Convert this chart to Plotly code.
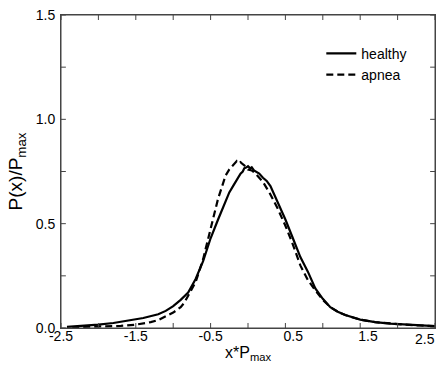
import plotly.graph_objects as go

healthy_x = [-2.42, -2.2, -2.0, -1.8, -1.6, -1.4, -1.2, -1.1, -1.0, -0.9, -0.8, -0.7, -0.6, -0.5, -0.4,
             -0.3, -0.25, -0.2, -0.15, -0.1, -0.07, -0.05, -0.02, 0.0, 0.03, 0.05, 0.08, 0.1, 0.13, 0.15,
             0.2, 0.25, 0.3, 0.4, 0.5, 0.6, 0.7, 0.8, 0.9, 1.0, 1.1, 1.2, 1.3, 1.5, 1.7, 1.9, 2.1, 2.3, 2.5]
healthy_y = [0.005, 0.010, 0.016, 0.024, 0.035, 0.048, 0.066, 0.082, 0.105, 0.135, 0.170, 0.235, 0.32, 0.43, 0.52,
             0.61, 0.65, 0.68, 0.71, 0.74, 0.75, 0.765, 0.77, 0.775, 0.765, 0.77, 0.755, 0.75, 0.745, 0.74,
             0.72, 0.705, 0.68, 0.60, 0.52, 0.43, 0.34, 0.27, 0.19, 0.14, 0.10, 0.078, 0.062, 0.040, 0.028, 0.021, 0.016, 0.012, 0.009]

apnea_x = [-2.35, -2.0, -1.7, -1.5, -1.3, -1.2, -1.1, -1.0, -0.9, -0.85, -0.8, -0.7, -0.6, -0.5, -0.4,
           -0.3, -0.25, -0.2, -0.17, -0.15, -0.12, -0.1, -0.07, -0.05, 0.0, 0.05, 0.1, 0.2, 0.3, 0.4,
           0.5, 0.6, 0.7, 0.8, 0.9, 1.0, 1.1, 1.2, 1.3, 1.5, 1.7, 1.9, 2.1, 2.3, 2.5]
apnea_y = [0.004, 0.007, 0.010, 0.016, 0.028, 0.038, 0.055, 0.074, 0.10, 0.122, 0.155, 0.22, 0.33, 0.48, 0.62,
           0.73, 0.76, 0.78, 0.795, 0.80, 0.79, 0.795, 0.785, 0.78, 0.76, 0.755, 0.74, 0.70, 0.64, 0.57,
           0.49, 0.40, 0.30, 0.23, 0.18, 0.135, 0.10, 0.078, 0.062, 0.040, 0.028, 0.021, 0.016, 0.012, 0.009]

series_names = ["healthy", "apnea"]

x_tickvals = [-2.5, -2.0, -1.5, -1.0, -0.5, 0.0, 0.5, 1.0, 1.5, 2.0, 2.5]
x_ticktext = ["-2.5", "", "-1.5", "", "-0.5", "", "\u2007\u20070.5", "", "\u2007\u20071.5", "", ""]
x_last_label = "2.5"
y_tickvals = [0, 0.25, 0.5, 0.75, 1.0, 1.25, 1.5]
y_ticktext = ["0.0", "", "0.5", "", "1.0", "", "1.5"]

fig = go.Figure()
fig.add_trace(go.Scatter(x=healthy_x, y=healthy_y, mode="lines", name=series_names[0],
                         line=dict(color="black", width=2.2)))
fig.add_trace(go.Scatter(x=apnea_x, y=apnea_y, mode="lines", name=series_names[1],
                         line=dict(color="black", width=2.2, dash="7px,4px")))

font = "Liberation Sans, Arial, sans-serif"
frame_color = "#444"
axis_common = dict(showgrid=False, zeroline=False, showline=True, linecolor=frame_color, linewidth=1,
                   mirror=True, ticks="",
                   tickfont=dict(family=font, size=14, color="black"))

fig.update_xaxes(range=[-2.5, 2.5], tickmode="array", tickvals=x_tickvals, ticktext=x_ticktext,
                 title=dict(text="x*P<sub>max</sub>\u2007\u2007", font=dict(family=font, size=16, color="black"), standoff=0),
                 ticklabelstandoff=-5,
                 **axis_common)
fig.update_yaxes(range=[0, 1.5], tickmode="array", tickvals=y_tickvals, ticktext=y_ticktext,
                 title=dict(text="P(x)/P<sub>max</sub>", font=dict(family=font, size=19, color="black"), standoff=8),
                 ticklabelstandoff=2,
                 **axis_common)

# frame drawn as a shape so that it always shows
fig.add_shape(type="rect", xref="paper", yref="paper", x0=0, y0=0, x1=1, y1=1,
              line=dict(color=frame_color, width=1), fillcolor="rgba(0,0,0,0)", layer="above")

# inward tick marks on all four sides, placed through the axes
for xv in x_tickvals:
    fig.add_shape(type="line", xref="x", yref="paper", x0=xv, x1=xv, y0=0, y1=0.016,
                  line=dict(color=frame_color, width=1), layer="above")
    fig.add_shape(type="line", xref="x", yref="paper", x0=xv, x1=xv, y0=1, y1=0.984,
                  line=dict(color=frame_color, width=1), layer="above")
for yv in y_tickvals:
    fig.add_shape(type="line", xref="paper", yref="y", x0=0, x1=0.013, y0=yv, y1=yv,
                  line=dict(color=frame_color, width=1), layer="above")
    fig.add_shape(type="line", xref="paper", yref="y", x0=1, x1=0.987, y0=yv, y1=yv,
                  line=dict(color=frame_color, width=1), layer="above")

fig.add_annotation(x=x_tickvals[-1], y=0, xref="x", yref="paper", text=x_last_label,
                   showarrow=False, xanchor="right", yanchor="top", yshift=-1, xshift=2,
                   font=dict(family=font, size=14, color="black"))

fig.update_layout(
    width=445, height=369,
    margin=dict(l=61, r=10, t=15, b=41, autoexpand=False),
    plot_bgcolor="white", paper_bgcolor="white",
    showlegend=True,
    legend=dict(x=0.696, y=0.927, xanchor="left", yanchor="top", bgcolor="rgba(0,0,0,0)",
                font=dict(family=font, size=14, color="black"), tracegroupgap=0, itemwidth=30),
)

fig.write_html("out.html", config={"displayModeBar": False},
               post_script="document.body.style.margin='0';")
